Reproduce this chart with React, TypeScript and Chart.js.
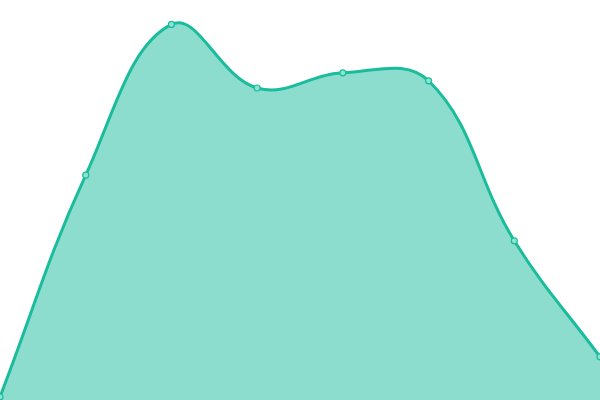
import { useEffect, useRef } from "react";
import Chart from "chart.js/auto";

const labels = ["1", "2", "3", "4", "5", "6", "7", "8"];
const values = [0.8, 56.2, 93.9, 78, 81.8, 79.8, 39.8, 10.8];

export const App = () => {
    const canvasRef: any = useRef(null);

    useEffect(() => {
        document.body.style.margin = "0";
        const ctx = canvasRef.current.getContext("2d");
        const chart = new Chart(ctx, {
            type: "line",
            data: {
                labels: labels,
                datasets: [{
                    data: values,
                    fill: true,
                    tension: 0.4,
                    borderColor: "#1abc9c",
                    backgroundColor: "rgba(26, 188, 156, 0.5)",
                    borderWidth: 3,
                    pointRadius: 3,
                    pointBorderWidth: 1.2,
                    pointBackgroundColor: "#8fe3d2",
                    pointBorderColor: "#1abc9c",
                    clip: false,
                }],
            },
            options: {
                animation: false,
                responsive: true,
                maintainAspectRatio: false,
                layout: { autoPadding: false, padding: 0 },
                plugins: { legend: { display: false }, tooltip: { enabled: false } },
                scales: {
                    x: { display: false, offset: false },
                    y: { display: false, min: 0, max: 100 },
                },
            },
        });

        return () => {
            chart.destroy();
        };
    }, []);

    return (
        <div style={{ position: "fixed", left: 0, top: 0, width: 600, height: 400 }}>
            <canvas ref={canvasRef}></canvas>
        </div>
    );
};

export default App;
